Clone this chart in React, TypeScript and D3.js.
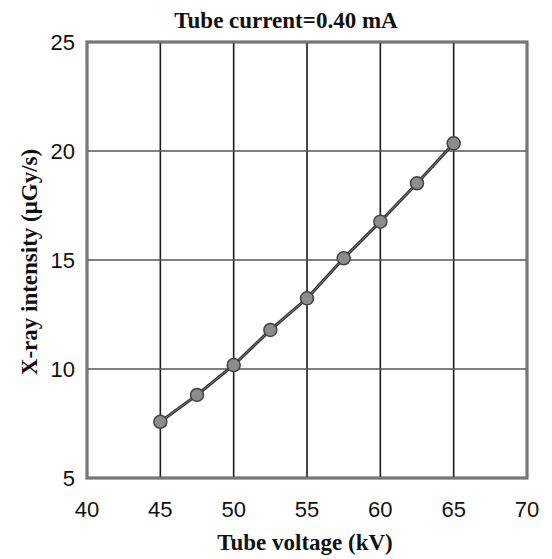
import React from "react";
import * as d3 from "d3";

const voltages = [45, 47.5, 50, 52.5, 55, 57.5, 60, 62.5, 65];
const intensities = [7.58, 8.81, 10.18, 11.79, 13.24, 15.08, 16.76, 18.52, 20.35];
const xTicks = [40, 45, 50, 55, 60, 65, 70];
const yTicks = [5, 10, 15, 20, 25];
const chartTitle = "Tube current=0.40 mA";
const xTitle = "Tube voltage (kV)";
const yTitle = "X-ray intensity (\u03bcGy/s)";

export default function App() {
  const W = 552, H = 559;
  const left = 87, right = 527, top = 42, bottom = 478;
  const x = d3.scaleLinear().domain([40, 70]).range([left, right]);
  const y = d3.scaleLinear().domain([5, 25]).range([bottom, top]);
  const pts = voltages.map((v, i) => [x(v), y(intensities[i])] as [number, number]);
  const line = d3.line()(pts) || "";
  const sans = "'Liberation Sans', Arial, sans-serif";
  const serif = "'Liberation Serif', 'Times New Roman', serif";
  return (
    <svg width={W} height={H} style={{ position: "absolute", left: 0, top: 0, background: "#fff" }}>
      <rect x={0} y={0} width={W} height={H} fill="#fff" />
      {/* vertical gridlines */}
      {xTicks.slice(1, -1).map((t) => (
        <line key={"vx" + t} x1={x(t)} x2={x(t)} y1={top} y2={bottom} stroke="#1a1a1a" strokeWidth={1.6} />
      ))}
      {/* horizontal gridlines */}
      {yTicks.slice(1, -1).map((t) => (
        <line key={"hy" + t} x1={left} x2={right} y1={y(t)} y2={y(t)} stroke="#555" strokeWidth={1.6} />
      ))}
      {/* frame */}
      <rect x={left} y={top} width={right - left} height={bottom - top} fill="none" stroke="#555" strokeWidth={3} />
      <rect x={left} y={top} width={right - left} height={bottom - top} fill="none" stroke="#999" strokeWidth={1} />
      {/* data line */}
      <path d={line} fill="none" stroke="#3a3a3a" strokeWidth={3.2} />
      <path d={line} fill="none" stroke="#777" strokeWidth={1} />
      {pts.map((p, i) => (
        <circle key={i} cx={p[0]} cy={p[1]} r={6.5} fill="#8c8c8c" stroke="#444" strokeWidth={1.5} />
      ))}
      {/* x tick labels */}
      {xTicks.map((t) => (
        <text key={"xl" + t} x={x(t)} y={517} textAnchor="middle" fontFamily={sans} fontSize={22} fill="#111">
          {t}
        </text>
      ))}
      {/* y tick labels */}
      {yTicks.map((t) => (
        <text key={"yl" + t} x={75} y={y(t) + 8} textAnchor="end" fontFamily={sans} fontSize={22} fill="#111">
          {t}
        </text>
      ))}
      <text x={286} y={28} textAnchor="middle" fontFamily={serif} fontWeight="bold" fontSize={23} fill="#111">
        {chartTitle}
      </text>
      <text x={305} y={550} textAnchor="middle" fontFamily={serif} fontWeight="bold" fontSize={23} fill="#111">
        {xTitle}
      </text>
      <text
        transform={`translate(37, 262) rotate(-90)`}
        textAnchor="middle"
        fontFamily={serif}
        fontWeight="bold"
        fontSize={23}
        fill="#111"
      >
        {yTitle}
      </text>
    </svg>
  );
}
